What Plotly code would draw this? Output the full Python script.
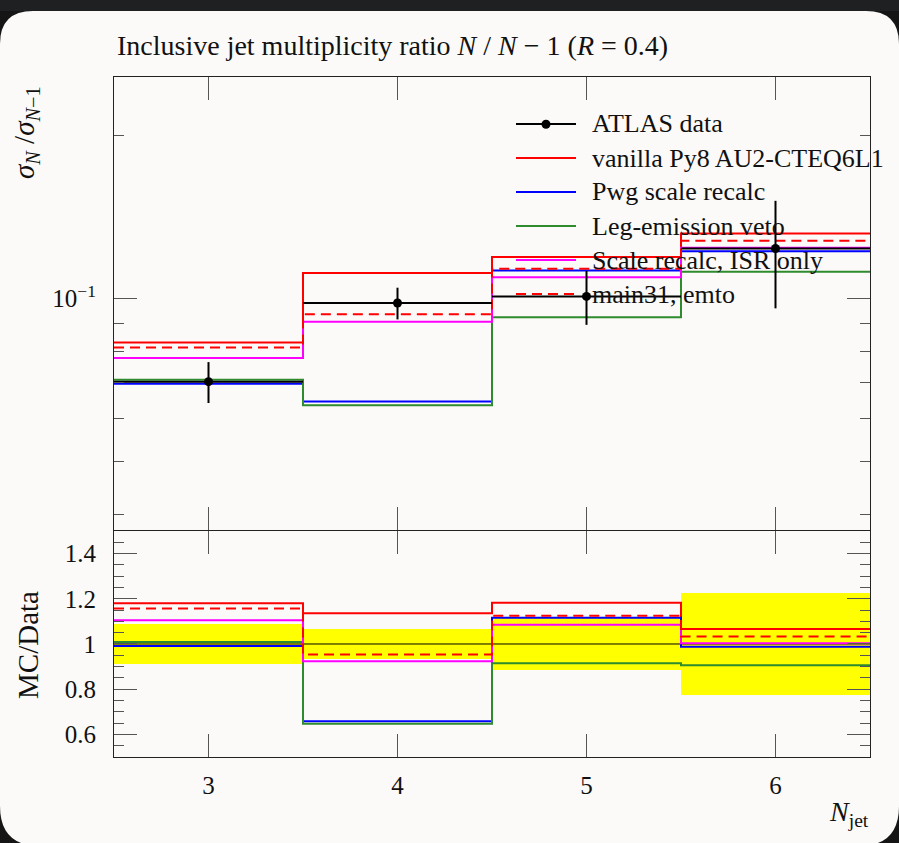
import plotly.graph_objects as go

# ---------------- data ----------------
edges = [2.5, 3.5, 4.5, 5.5, 6.5]
njet = [3, 4, 5, 6]
data = [0.0703, 0.0982, 0.1010, 0.1238]
data_err = [0.0061, 0.0066, 0.0115, 0.0278]
vanilla = [0.0830, 0.1115, 0.1194, 0.1320]
pwg_scale = [0.0697, 0.0646, 0.1127, 0.1223]
leg_veto = [0.0709, 0.0636, 0.0924, 0.1122]
scale_isr = [0.0777, 0.0907, 0.1096, 0.1242]
main31 = [0.0813, 0.0936, 0.1136, 0.1279]

series_names = ["vanilla Py8 AU2-CTEQ6L1", "Pwg scale recalc", "Leg-emission veto",
                "Scale recalc, ISR only", "main31, emto"]
series_vals = [vanilla, pwg_scale, leg_veto, scale_isr, main31]
series_colors = ["#ff0000", "#0000ff", "#2e8b2e", "#ff00ff", "#ff0000"]
series_dash = ["solid", "solid", "solid", "solid", "10px,6px"]

upper_minor = [0.04, 0.05, 0.06, 0.07, 0.08, 0.09, 0.2]
ratio_ticks = [0.6, 0.8, 1.0, 1.2, 1.4]
ratio_ticktext = ["0.6", "0.8", "1", "1.2", "1.4"]

FONT = "Liberation Serif, DejaVu Serif, serif"
BG = "#fbfaf8"

# ---------------- geometry helpers (pixel -> paper) ----------------
W, H = 899, 843
L, R, T, B = 114, 870, 77, 757


def px(x):
    return (x - L) / (R - L)


def py(y):
    return (B - y) / (B - T)


fig = go.Figure()


def step(vals):
    return list(vals) + [vals[-1]]


# ---------------- upper panel ----------------
for name, vals, col, dash in zip(series_names, series_vals, series_colors, series_dash):
    fig.add_trace(go.Scatter(x=edges, y=step(vals), mode="lines", line_shape="hv",
                             line=dict(color=col, width=2, dash=dash),
                             name=name, xaxis="x2", yaxis="y", showlegend=False))

fig.add_trace(go.Scatter(x=njet, y=data, mode="markers", name="ATLAS data",
                         marker=dict(color="black", size=9),
                         error_x=dict(type="constant", value=0.5, color="black", thickness=2, width=0),
                         error_y=dict(type="data", array=data_err, color="black", thickness=2, width=0),
                         xaxis="x2", yaxis="y", showlegend=False))

# ---------------- lower (ratio) panel ----------------
band_lo = [1 - e / d for e, d in zip(data_err, data)]
band_h = [2 * e / d for e, d in zip(data_err, data)]
fig.add_trace(go.Bar(x=njet, y=band_h, base=band_lo, width=1.0,
                     marker=dict(color="#ffff00", line=dict(width=0)),
                     xaxis="x", yaxis="y2", showlegend=False, name="data uncertainty"))
fig.add_trace(go.Scatter(x=[edges[0], edges[-1]], y=[1, 1], mode="lines",
                         line=dict(color="black", width=1), xaxis="x", yaxis="y2",
                         showlegend=False, hoverinfo="skip"))
for name, vals, col, dash in zip(series_names, series_vals, series_colors, series_dash):
    ratio = [v / d for v, d in zip(vals, data)]
    fig.add_trace(go.Scatter(x=edges, y=step(ratio), mode="lines", line_shape="hv",
                             line=dict(color=col, width=2, dash=dash),
                             name=name + " / data", xaxis="x", yaxis="y2", showlegend=False))

# ---------------- axes ----------------
axis_common = dict(showline=True, linecolor="#222", linewidth=1.2, ticks="inside",
                   tickcolor="#555", tickwidth=1.3, mirror="ticks", showgrid=False,
                   zeroline=False)
tickfont = dict(family=FONT, size=25, color="#111")

fig.update_layout(
    xaxis=dict(domain=[0, 1], range=[2.5, 6.5], anchor="y2", tickvals=njet,
               ticktext=[str(n) for n in njet], ticklen=23, tickfont=tickfont,
               ticklabelstandoff=6, **axis_common),
    xaxis2=dict(domain=[0, 1], range=[2.5, 6.5], anchor="y", matches="x", tickvals=njet,
                showticklabels=False, ticklen=23, **axis_common),
    yaxis=dict(domain=[0.3338, 1], type="log", range=[-1.4268, -0.5908], anchor="x2",
               tickvals=[0.1], ticktext=["10<sup>−1</sup>"], ticklen=23, tickfont=tickfont,
               ticklabelstandoff=12,
               minor=dict(ticks="inside", tickvals=upper_minor, ticklen=10,
                          tickcolor="#555", tickwidth=1.3, showgrid=False),
               **axis_common),
    yaxis2=dict(domain=[0, 0.3324], range=[0.5, 1.5], anchor="x",
                tickvals=ratio_ticks, ticktext=ratio_ticktext, ticklen=23, tickfont=tickfont,
                ticklabelstandoff=12,
                minor=dict(ticks="inside", dtick=0.05, tick0=0.5, ticklen=10,
                           tickcolor="#555", tickwidth=1.3, showgrid=False),
                **axis_common),
    width=W, height=H,
    margin=dict(l=L, r=W - R, t=T, b=H - B, pad=0),
    paper_bgcolor="#151515",
    plot_bgcolor="rgba(0,0,0,0)",
    bargap=0,
    showlegend=False,
    font=dict(family=FONT, color="#111"),
)

# ---------------- window-like rounded frame ----------------
fx0, fx1, fy0, fy1 = 0, 899, 11, 846
rt, rb = 33, 40


def P(x, y):
    return f"{px(x):.5f},{py(y):.5f}"


path = (f"M {P(fx0, fy0 + rt)} Q {P(fx0, fy0)} {P(fx0 + rt, fy0)} "
        f"L {P(fx1 - rt, fy0)} Q {P(fx1, fy0)} {P(fx1, fy0 + rt)} "
        f"L {P(fx1, fy1 - rb)} Q {P(fx1, fy1)} {P(fx1 - rb, fy1)} "
        f"L {P(fx0 + rb, fy1)} Q {P(fx0, fy1)} {P(fx0, fy1 - rb)} Z")
fig.add_shape(type="path", path=path, xref="paper", yref="paper", layer="below",
              fillcolor=BG, line=dict(width=0))
fig.add_shape(type="rect", xref="paper", yref="paper", x0=px(0), x1=px(899), y0=py(0), y1=py(11),
              fillcolor="#1f2022", line=dict(width=0), layer="below")

# ---------------- manual legend ----------------
leg_rows = [124, 158, 192, 226, 260, 294]
leg_labels = ["ATLAS data"] + series_names
leg_colors = ["black"] + series_colors
leg_dash = ["solid"] + series_dash
for yrow, lab, col, dash in zip(leg_rows, leg_labels, leg_colors, leg_dash):
    fig.add_shape(type="line", xref="paper", yref="paper", x0=px(516), x1=px(576),
                  y0=py(yrow), y1=py(yrow), line=dict(color=col, width=2, dash=dash))
    fig.add_annotation(x=px(590), y=py(yrow), xref="paper", yref="paper", text=lab,
                       showarrow=False, xanchor="left", yanchor="middle",
                       font=dict(family=FONT, size=26, color="#111"))
fig.add_shape(type="circle", xref="paper", yref="paper", x0=px(541.5), x1=px(550.5),
              y0=py(128.8), y1=py(119.8), fillcolor="black", line=dict(color="black", width=0))

# ---------------- titles / labels ----------------
fig.add_annotation(x=px(115), y=py(46), xref="paper", yref="paper",
                   text="Inclusive jet multiplicity ratio <i>N</i> / <i>N</i> − 1 (<i>R</i> = 0.4)",
                   showarrow=False, xanchor="left", yanchor="middle",
                   font=dict(family=FONT, size=28, color="#111"))
fig.add_annotation(x=px(26), y=py(133), xref="paper", yref="paper",
                   text="<i>σ</i><sub><i>N</i></sub> /<i>σ</i><sub><i>N</i>−1</sub>",
                   showarrow=False, textangle=-90, xanchor="center", yanchor="middle",
                   font=dict(family=FONT, size=29, color="#111"))
fig.add_annotation(x=px(28), y=py(645), xref="paper", yref="paper", text="MC/Data",
                   showarrow=False, textangle=-90, xanchor="center", yanchor="middle",
                   font=dict(family=FONT, size=29, color="#111"))
fig.add_annotation(x=px(871), y=py(813), xref="paper", yref="paper",
                   text="<i>N</i><sub>jet</sub>", showarrow=False, xanchor="right",
                   yanchor="middle", font=dict(family=FONT, size=28, color="#111"))

fig.write_html(
    "out.html",
    config={"displayModeBar": False},
    post_script="document.body.style.margin='0';document.body.style.background='#151515';"
                "document.documentElement.style.background='#151515';",
)
